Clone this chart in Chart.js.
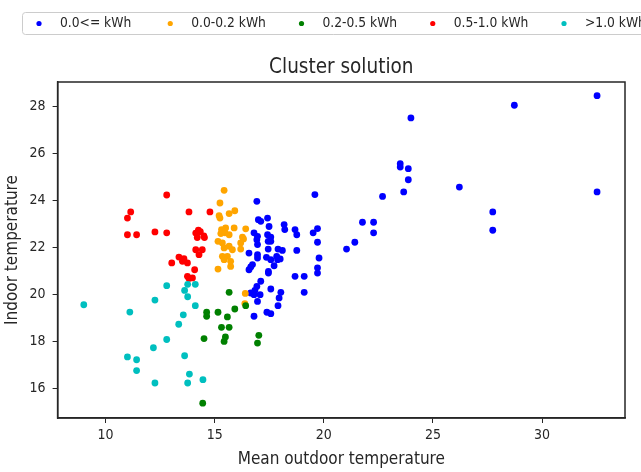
<!DOCTYPE html>
<html>
<head>
<meta charset="utf-8">
<script src="https://cdn.jsdelivr.net/npm/chart.js@4.4.1/dist/chart.umd.min.js"></script>
<style>
  body { margin: 0; background: #fff; }
</style>
</head>
<body>
<canvas id="clusterChart" width="641" height="472"></canvas>
<script>
const clusterLabels = ['0.0<= kWh', '0.0-0.2 kWh', '0.2-0.5 kWh', '0.5-1.0 kWh', '>1.0 kWh'];
const clusterColors = ['#0000ff', '#ffa500', '#008000', '#ff0000', '#00bfbf'];

const blueX = [16.93, 19.59, 17.00, 17.11, 17.42, 17.49, 18.18, 18.21, 18.68, 18.76, 19.51, 19.71, 19.71, 21.42, 21.04,
    21.77, 22.28, 22.28, 16.80, 16.96, 16.93, 17.42, 17.57, 17.45, 17.57, 16.96, 17.45, 17.90, 18.10, 18.76,
    16.57, 16.96, 16.96, 17.37, 17.57, 17.84, 17.88, 17.72, 17.46, 17.46, 16.73, 16.57, 16.65, 18.00, 19.78,
    19.71, 19.71, 18.68, 19.10, 17.11, 16.93, 16.84, 16.65, 16.80, 17.08, 17.57, 18.03, 17.95, 19.10, 16.96,
    17.90, 16.80, 17.39, 17.57, 23.50, 23.50, 23.87, 23.87, 23.66, 22.69, 32.52, 28.73, 23.99, 26.21, 32.52,
    27.74, 27.74];
const blueY = [23.97, 24.26, 23.19, 23.12, 23.26, 22.90, 22.98, 22.77, 22.77, 22.55, 22.63, 22.81, 22.23, 22.23, 21.94,
    23.08, 23.08, 22.63, 22.63, 22.48, 22.34, 22.55, 22.45, 22.27, 22.27, 22.13, 21.94, 21.94, 21.88, 21.88,
    21.77, 21.70, 21.56, 21.59, 21.49, 21.63, 21.49, 21.23, 20.99, 20.92, 21.28, 21.06, 21.18, 21.52, 21.56,
    21.14, 20.92, 20.78, 20.78, 20.57, 20.35, 20.18, 20.07, 20.00, 20.00, 20.24, 20.10, 19.86, 20.10, 19.71,
    19.53, 19.08, 19.25, 19.19, 25.57, 25.43, 25.36, 24.89, 24.37, 24.18, 28.47, 28.06, 27.52, 24.58, 24.37,
    23.52, 22.74];

const orangeX = [15.43, 15.24, 15.20, 15.24, 15.66, 15.92, 15.31, 15.50, 15.89, 16.42, 15.28, 15.47, 15.66, 16.27, 16.32,
    15.15, 15.35, 15.43, 15.81, 16.19, 15.35, 15.58, 15.43, 15.73, 15.73, 15.15, 16.40, 16.38, 15.66, 16.19];
const orangeY = [24.44, 23.90, 23.36, 23.26, 23.45, 23.57, 22.77, 22.84, 22.84, 22.80, 22.60, 22.63, 22.55, 22.45, 22.37,
    22.27, 22.20, 21.99, 21.91, 21.94, 21.63, 21.63, 21.49, 21.42, 21.20, 21.09, 20.05, 19.62, 22.06, 22.20];

const greenX = [15.66, 14.63, 14.63, 15.15, 15.58, 15.92, 16.42, 15.31, 15.66, 14.51, 15.49, 15.43, 17.02, 16.96, 14.45];
const greenY = [20.10, 19.25, 19.08, 19.25, 19.05, 19.39, 19.53, 18.61, 18.61, 18.13, 18.20, 18.01, 18.27, 17.94, 15.38];

const redX = [12.80, 11.15, 11.00, 13.82, 14.78, 11.00, 11.42, 12.26, 12.80, 14.13, 14.34, 14.50, 14.20, 14.53, 14.25,
    14.13, 14.43, 14.28, 14.08, 13.98, 13.36, 13.59, 13.75, 13.03, 13.52, 13.75, 13.82];
const redY = [24.24, 23.52, 23.26, 23.52, 23.52, 22.55, 22.55, 22.67, 22.63, 22.62, 22.68, 22.50, 22.43, 22.43, 22.75,
    21.91, 21.91, 21.70, 21.06, 20.71, 21.60, 21.53, 21.35, 21.35, 21.42, 20.78, 20.69];

const cyanX = [9.00, 11.11, 12.26, 12.80, 13.76, 14.11, 13.62, 13.76, 14.11, 13.56, 13.35, 12.80, 12.19, 11.00, 11.42,
    11.42, 13.62, 13.84, 13.76, 12.26, 14.46];
const cyanY = [19.57, 19.26, 19.77, 20.38, 20.44, 20.44, 20.18, 19.91, 19.53, 19.14, 18.74, 18.09, 17.74, 17.35, 17.23,
    16.77, 17.40, 16.62, 16.24, 16.24, 16.38];

const xTicks = [10, 15, 20, 25, 30];
const yTicks = [16, 18, 20, 22, 24, 26, 28];

const FONT = "'DejaVu Sans Condensed', 'DejaVu Sans', sans-serif";
const TEXT_COLOR = '#262626';

function toPoints(xs, ys) {
    return xs.map((x, i) => ({ x: x, y: ys[i] }));
}

const clusters = [[blueX, blueY], [orangeX, orangeY], [greenX, greenY], [redX, redY], [cyanX, cyanY]];

// plot frame on all four sides + matplotlib-style legend box
const frameAndLegend = {
    id: 'frameAndLegend',
    afterDraw(chart) {
        const { ctx, chartArea } = chart;
        ctx.save();
        ctx.strokeStyle = '#262626';
        ctx.lineWidth = 1.5;
        ctx.strokeRect(chartArea.left, chartArea.top, chartArea.right - chartArea.left, chartArea.bottom - chartArea.top);

        ctx.strokeStyle = '#cccccc';
        ctx.lineWidth = 1;
        ctx.beginPath();
        ctx.roundRect(22.5, 12.5, 640, 22, 3);
        ctx.stroke();

        ctx.font = '13.7px ' + FONT;
        ctx.textBaseline = 'middle';
        chart.data.datasets.forEach((ds, i) => {
            const x = 39 + i * 131.25;
            ctx.fillStyle = ds.backgroundColor;
            ctx.beginPath();
            ctx.arc(x, 23.5, 2.6, 0, Math.PI * 2);
            ctx.fill();
            ctx.fillStyle = TEXT_COLOR;
            ctx.fillText(ds.label, x + 21, 23.5);
        });
        ctx.restore();
    }
};

const ctx = document.getElementById('clusterChart').getContext('2d');
new Chart(ctx, {
    type: 'scatter',
    data: {
        datasets: clusters.map((c, i) => ({
            label: clusterLabels[i],
            data: toPoints(c[0], c[1]),
            backgroundColor: clusterColors[i],
            borderWidth: 0,
            pointRadius: 3.4,
            pointHoverRadius: 3.4,
            order: clusters.length - i
        }))
    },
    options: {
        responsive: false,
        animation: false,
        layout: { padding: { top: 40, right: 16, left: 0, bottom: 0 } },
        plugins: {
            legend: { display: false },
            tooltip: { enabled: false },
            title: {
                display: true,
                fullSize: false,
                text: 'Cluster solution',
                color: TEXT_COLOR,
                font: { family: FONT, size: 20.5, weight: 'normal' },
                padding: { top: 15.5, bottom: 1.9 }
            }
        },
        scales: {
            x: {
                type: 'linear',
                min: 7.8,
                max: 33.8,
                afterFit: scale => { scale.height = 54; },
                afterBuildTicks: scale => { scale.ticks = xTicks.map(v => ({ value: v })); },
                grid: { drawOnChartArea: false, drawTicks: true, tickLength: 5, color: '#262626' },
                border: { display: true, color: '#262626', width: 1.5 },
                ticks: { color: TEXT_COLOR, font: { family: FONT, size: 14 }, padding: 4, maxRotation: 0 },
                title: {
                    display: true,
                    text: 'Mean outdoor temperature',
                    color: TEXT_COLOR,
                    font: { family: FONT, size: 17 },
                    padding: { top: 0, bottom: 2 }
                }
            },
            y: {
                type: 'linear',
                min: 14.75,
                max: 29.05,
                afterFit: scale => { scale.width = 57.6; },
                afterBuildTicks: scale => { scale.ticks = yTicks.map(v => ({ value: v })); },
                grid: { drawOnChartArea: false, drawTicks: true, tickLength: 5, color: '#262626' },
                border: { display: true, color: '#262626', width: 1.5 },
                ticks: { color: TEXT_COLOR, font: { family: FONT, size: 14 }, padding: 7 },
                title: {
                    display: true,
                    text: 'Indoor temperature',
                    color: TEXT_COLOR,
                    font: { family: FONT, size: 17 },
                    padding: { top: 2, bottom: 0 }
                }
            }
        }
    },
    plugins: [frameAndLegend]
});
</script>
</body>
</html>
